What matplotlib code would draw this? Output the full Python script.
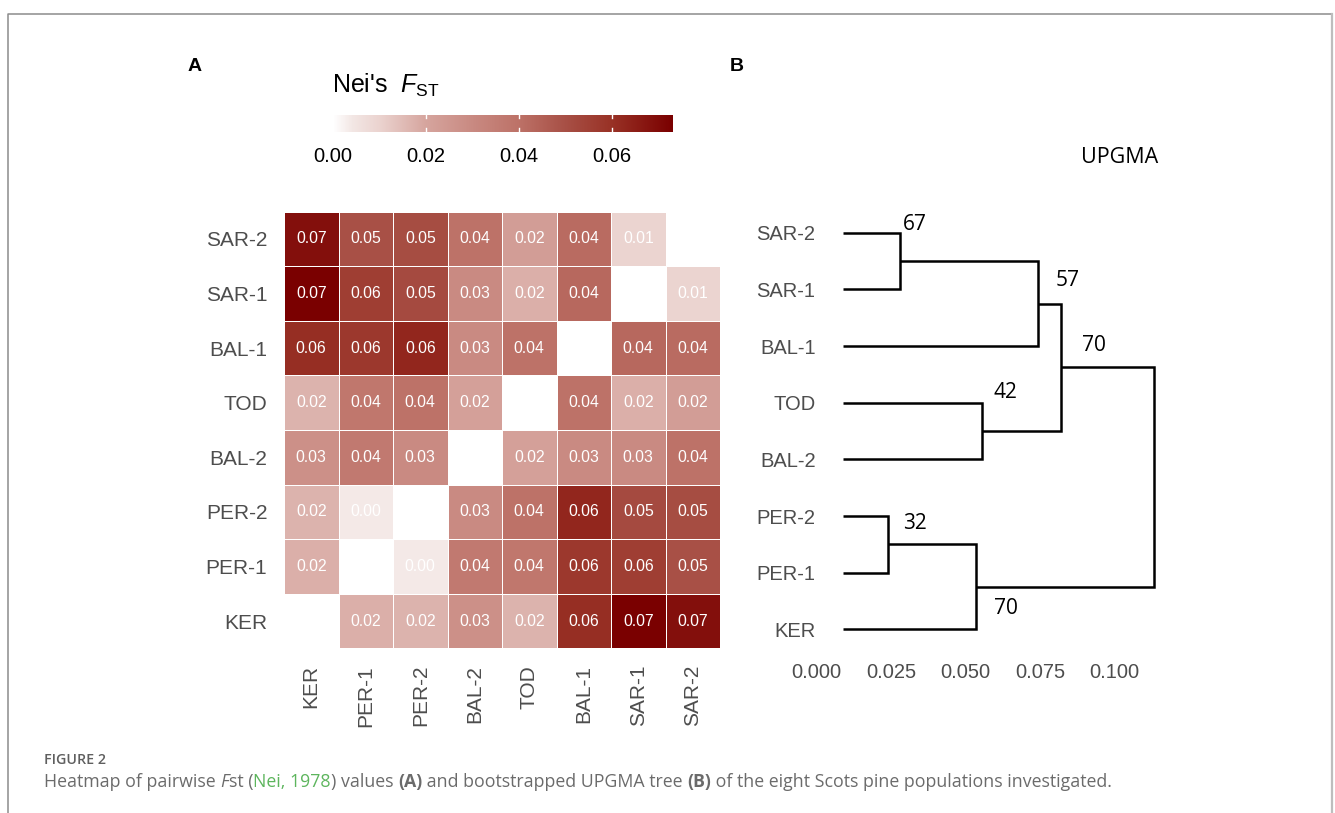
import numpy as np
import matplotlib
matplotlib.use("Agg")
import matplotlib.pyplot as plt
from matplotlib.colors import LinearSegmentedColormap
from matplotlib.lines import Line2D

plt.rcParams["font.family"] = "Liberation Sans"
plt.rcParams["mathtext.fontset"] = "custom"
plt.rcParams["mathtext.rm"] = "Liberation Sans"
plt.rcParams["mathtext.it"] = "Liberation Sans:italic"

W, H = 1335, 813

# --- data -------------------------------------------------------------
populations = ["KER", "PER-1", "PER-2", "BAL-2", "TOD", "BAL-1", "SAR-1", "SAR-2"]
nan = np.nan
fst = [
    [nan, 0.018, 0.017, 0.028, 0.017, 0.061, 0.073, 0.069],  # KER
    [0.018, nan, 0.004, 0.037, 0.038, 0.058, 0.056, 0.050],  # PER-1
    [0.017, 0.004, nan, 0.030, 0.040, 0.063, 0.052, 0.051],  # PER-2
    [0.028, 0.037, 0.030, nan, 0.022, 0.030, 0.030, 0.040],  # BAL-2
    [0.017, 0.038, 0.040, 0.022, nan, 0.040, 0.018, 0.023],  # TOD
    [0.061, 0.058, 0.063, 0.030, 0.040, nan, 0.043, 0.042],  # BAL-1
    [0.073, 0.056, 0.052, 0.030, 0.018, 0.043, nan, 0.010],  # SAR-1
    [0.069, 0.050, 0.051, 0.040, 0.023, 0.042, 0.010, nan],  # SAR-2
]
fst_ticks = [0.00, 0.02, 0.04, 0.06]
fst_max = 0.0732

# UPGMA tree: leaves in plotting order (bottom to top), merges n0..n6
tip_height = 0.0088
merge_left = ["SAR-2", "n0", "TOD", "n1", "PER-2", "n4", "n3"]
merge_right = ["SAR-1", "BAL-1", "BAL-2", "n2", "PER-1", "KER", "n5"]
merge_height = [0.0279, 0.0741, 0.0553, 0.0818, 0.0240, 0.0534, 0.1132]
bootstrap = [67, 57, 42, 70, 32, 70, None]
tree_ticks = [0.000, 0.025, 0.050, 0.075, 0.100]

# where the bootstrap values sit (data coords of the tree panel)
boot_x = [0.0330, 0.0843, 0.0633, 0.0930, 0.0330, 0.0635, None]
boot_y = [8.136, 7.165, 5.171, 6.018, 2.876, 1.376, None]

# colour ramp sampled off the legend bar
ramp_pos = [0.0, 0.055, 0.137, 0.273, 0.41, 0.546, 0.683, 0.82, 1.0]
ramp_col = ["#ffffff", "#f3e7e5", "#ebd3cf", "#d6a59e", "#c98a82",
            "#bd7268", "#a85046", "#993226", "#7a0000"]
cmap = LinearSegmentedColormap.from_list("fst", list(zip(ramp_pos, ramp_col)))


def fig_rect(x0, y0, x1, y1):
    return [x0 / W, 1 - y1 / H, (x1 - x0) / W, (y1 - y0) / H]


fig = plt.figure(figsize=(W / 100, H / 100), dpi=100)

# --- panel A: heatmap ---------------------------------------------------
n = len(populations)
mat = np.ma.masked_invalid(np.array(fst))
ax = fig.add_axes(fig_rect(284, 211.7, 720, 648.3))
ax.pcolormesh(np.arange(n + 1), np.arange(n + 1), mat, cmap=cmap,
              vmin=0, vmax=fst_max, edgecolors="white", linewidth=0.45)
for i in range(n):
    for j in range(n):
        if not np.isnan(fst[i][j]):
            ax.text(j + 0.5, i + 0.5, f"{fst[i][j]:.2f}", ha="center", va="center",
                    color="white", fontsize=11.3)
ax.set_xlim(0, n)
ax.set_ylim(0, n)
ax.set_xticks(np.arange(n) + 0.5, populations, rotation=90)
ax.set_yticks(np.arange(n) + 0.5, populations)
ax.tick_params(length=0, pad=12, labelsize=15, labelcolor="#4d4d4d")
for s in ax.spines.values():
    s.set_visible(False)

# colour bar
cax = fig.add_axes(fig_rect(333, 115, 673, 131.7))
cax.imshow(np.linspace(0, fst_max, 256)[None, :], extent=(0, fst_max, 0, 1),
           aspect="auto", cmap=cmap, vmin=0, vmax=fst_max)
for tk in fst_ticks:
    cax.plot([tk, tk], [0, 0.2], color="white", lw=1)
    cax.plot([tk, tk], [0.8, 1], color="white", lw=1)
cax.set_xlim(0, fst_max)
cax.set_ylim(0, 1)
cax.set_xticks(fst_ticks, [f"{v:.2f}" for v in fst_ticks])
cax.set_yticks([])
cax.tick_params(length=0, pad=11, labelsize=14.5, labelcolor="black")
for s in cax.spines.values():
    s.set_visible(False)

fig.text(332 / W, 1 - 92.7 / H, r"Nei's  $F_{\mathrm{ST}}$", fontsize=18, va="baseline")
fig.text(188 / W, 1 - 70.7 / H, "A", fontsize=14, fontweight="bold", va="baseline")

# --- panel B: UPGMA tree -------------------------------------------------
tx0, tx1, ty0, ty1 = 800, 1175, 200, 650
tax = fig.add_axes(fig_rect(tx0, ty0, tx1, ty1))
px_per_unit, zero_px = 2980, 816.8
leaf_gap, top_leaf_px = 56.66, 232.7
tax.set_xlim((tx0 - zero_px) / px_per_unit, (tx1 - zero_px) / px_per_unit)
tax.set_ylim(1 - (ty1 - (top_leaf_px + 7 * leaf_gap)) / leaf_gap,
             8 + (top_leaf_px - ty0) / leaf_gap)

pos = {name: (tip_height, k + 1) for k, name in enumerate(populations)}
for k, (a, b, h) in enumerate(zip(merge_left, merge_right, merge_height)):
    (xa, ya), (xb, yb) = pos[a], pos[b]
    tax.plot([xa, h, h, xb], [ya, ya, yb, yb], color="black", lw=1.8,
             solid_joinstyle="miter", solid_capstyle="butt")
    pos[f"n{k}"] = (h, (ya + yb) / 2)
    if bootstrap[k] is not None:
        tax.text(boot_x[k], boot_y[k], str(bootstrap[k]), ha="center", va="center",
                 fontsize=15, family="Open Sans", color="black")

for k, name in enumerate(populations):
    tax.text(-0.0004, k + 1, name, ha="right", va="center_baseline",
             fontsize=14.5, color="#4d4d4d")

tax.set_xticks(tree_ticks, [f"{v:.3f}" for v in tree_ticks])
tax.set_yticks([])
tax.tick_params(length=0, pad=9, labelsize=14.5, labelcolor="#4d4d4d")
for s in tax.spines.values():
    s.set_visible(False)

fig.text(1158 / W, 1 - 162.7 / H, "UPGMA", ha="right", va="baseline",
         fontsize=15.5, family="Open Sans")
fig.text(730 / W, 1 - 70.7 / H, "B", fontsize=14, fontweight="bold", va="baseline")

# --- frame and caption ---------------------------------------------------
fig.add_artist(Line2D([8 / W, 8 / W, 1332 / W], [0, 1 - 14 / H, 1 - 14 / H],
                      transform=fig.transFigure, color="#8c8c8c", lw=1.1))
fig.add_artist(Line2D([1332 / W, 1332 / W], [1 - 14 / H, 0],
                      transform=fig.transFigure, color="#bdbdbd", lw=1.6))

fig.text(44 / W, 1 - 764 / H, "FIGURE 2", fontsize=10.3, family="Open Sans",
         fontweight="semibold", color="#5f5f5f", va="baseline")

caption = [
    ("Heatmap of pairwise ", "normal", "normal", "#6b6b6b"),
    ("F", "normal", "italic", "#6b6b6b"),
    ("st (", "normal", "normal", "#6b6b6b"),
    ("Nei, 1978", "normal", "normal", "#5db55d"),
    (") values ", "normal", "normal", "#6b6b6b"),
    ("(A)", "bold", "normal", "#6b6b6b"),
    (" and bootstrapped UPGMA tree ", "normal", "normal", "#6b6b6b"),
    ("(B)", "bold", "normal", "#6b6b6b"),
    (" of the eight Scots pine populations investigated.", "normal", "normal", "#6b6b6b"),
]
renderer = fig.canvas.get_renderer()
x_px = 44
for txt, weight, style, col in caption:
    tt = fig.text(x_px / W, 1 - 786.7 / H, txt, fontsize=12.8, family="Open Sans",
                  fontweight=weight, fontstyle=style, color=col, va="baseline")
    x_px += tt.get_window_extent(renderer).width

fig.savefig("out.png", dpi=100)
